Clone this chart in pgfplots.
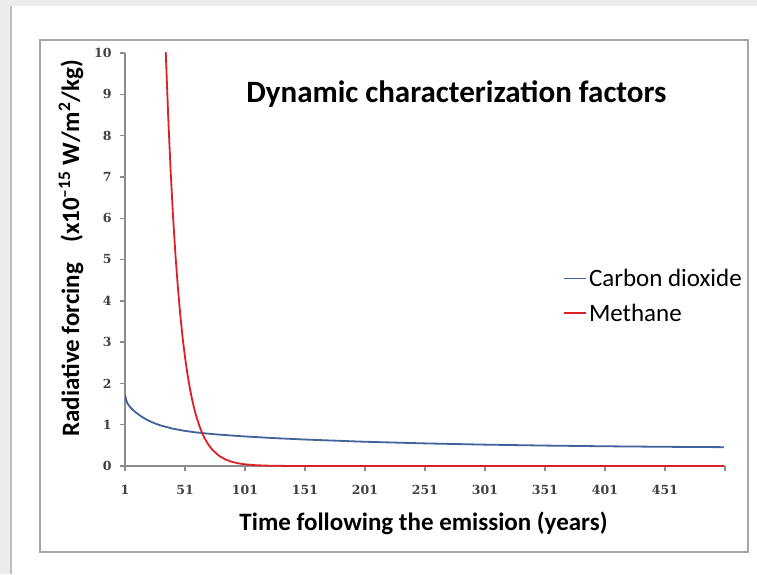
\documentclass[border=0pt]{standalone}
\usepackage{pgfplots}
\pgfplotsset{compat=1.18}
\usepackage{fontspec}
\setmainfont{Carlito}
\newfontfamily\tickfont{DejaVu Serif}
\definecolor{cdblue}{RGB}{65,98,155}
\definecolor{mered}{RGB}{220,32,40}
\definecolor{axgray}{RGB}{140,140,140}
\definecolor{framegray}{RGB}{166,166,166}
\definecolor{bandgray}{RGB}{236,236,236}
\begin{document}
\begin{tikzpicture}[x=1pt,y=1pt]
\path[use as bounding box] (0,0) rectangle (757,574);
\fill[white] (0,0) rectangle (757,574);
\fill[bandgray] (0,568) rectangle (757,574);
\fill[bandgray] (0,0) rectangle (11,574);
\draw[black!25, line width=1.5pt] (11,0) -- (11,568);
\draw[framegray, line width=1.5pt] (40,22) rectangle (748,534);
\begin{axis}[
  at={(125pt,108pt)}, anchor=south west,
  scale only axis, width=600pt, height=413pt,
  xmin=1, xmax=501, ymin=0, ymax=10,
  axis x line*=bottom, axis y line*=left,
  axis line style={-, draw=axgray, line width=1.6pt},
  xtick={1,51,...,501},
  xticklabels={1,51,101,151,201,251,301,351,401,451,{}},
  ytick={0,1,...,10},
  tick align=outside, major tick length=5pt,
  tick style={draw=axgray, line width=1.4pt},
  /pgf/number format/assume math mode=true,
  tick label style={font=\tickfont\bfseries\fontsize{12.5}{12.5}\selectfont, text=black!75},
  xticklabel style={yshift=-11pt},
  yticklabel style={xshift=-5pt},
  xlabel={Time following the emission (years)},
  xlabel style={font=\bfseries\fontsize{25}{25}\selectfont, at={(axis description cs:0.4975,-0.157)}, anchor=base},
  ylabel={Radiative forcing\hspace{20pt}(x10\textsuperscript{–15} W/m\textsuperscript{2}/kg)},
  ylabel style={font=\bfseries\fontsize{25}{25}\selectfont, at={(axis description cs:-0.09,0.527)}, anchor=center},
  legend style={at={(axis description cs:0.73,0.412)}, anchor=west, draw=none, fill=none,
    font=\fontsize{25}{25}\selectfont, row sep=12pt, inner sep=0pt},
  legend cell align=left,
]
\addlegendimage{legend image code/.code={\draw[draw=cdblue, line width=1.8pt] (0pt,0pt) -- (22pt,0pt);}}
\addlegendentry{Carbon dioxide}
\addlegendimage{legend image code/.code={\draw[draw=mered, line width=1.8pt] (0pt,0pt) -- (22pt,0pt);}}
\addlegendentry{Methane}
\addplot[draw=cdblue, line width=1.8pt, forget plot] coordinates {
(1,1.72) (2,1.60) (3,1.52) (4,1.476) (6,1.404) (8,1.347) (10,1.297) (15,1.191)
(20,1.108) (25,1.042) (30,0.988) (40,0.909) (50,0.854) (60,0.814) (75,0.770)
(100,0.717) (125,0.676) (150,0.642) (200,0.588) (250,0.548) (300,0.518)
(350,0.495) (400,0.478) (450,0.465) (500,0.456)
};
\addplot[draw=mered, line width=1.8pt, forget plot] coordinates {
(33,11.81) (35,10.00) (37,8.46) (39,7.16) (41,6.06) (43,5.13) (45,4.35) (47,3.68)
(49,3.11) (51,2.64) (53,2.23) (55,1.89) (57,1.60) (59,1.35) (61,1.15) (63,0.97)
(65,0.82) (67,0.69) (70,0.54) (73,0.42) (76,0.33) (80,0.235) (85,0.155) (90,0.102)
(95,0.067) (100,0.044) (110,0.019) (120,0.0084) (135,0.0023) (150,0.0007)
(200,0) (300,0) (400,0) (500,0)
};
\node[font=\bfseries\fontsize{31}{31}\selectfont, anchor=base] at (axis description cs:0.5525,0.879) {Dynamic characterization factors};
\end{axis}
\end{tikzpicture}
\end{document}
